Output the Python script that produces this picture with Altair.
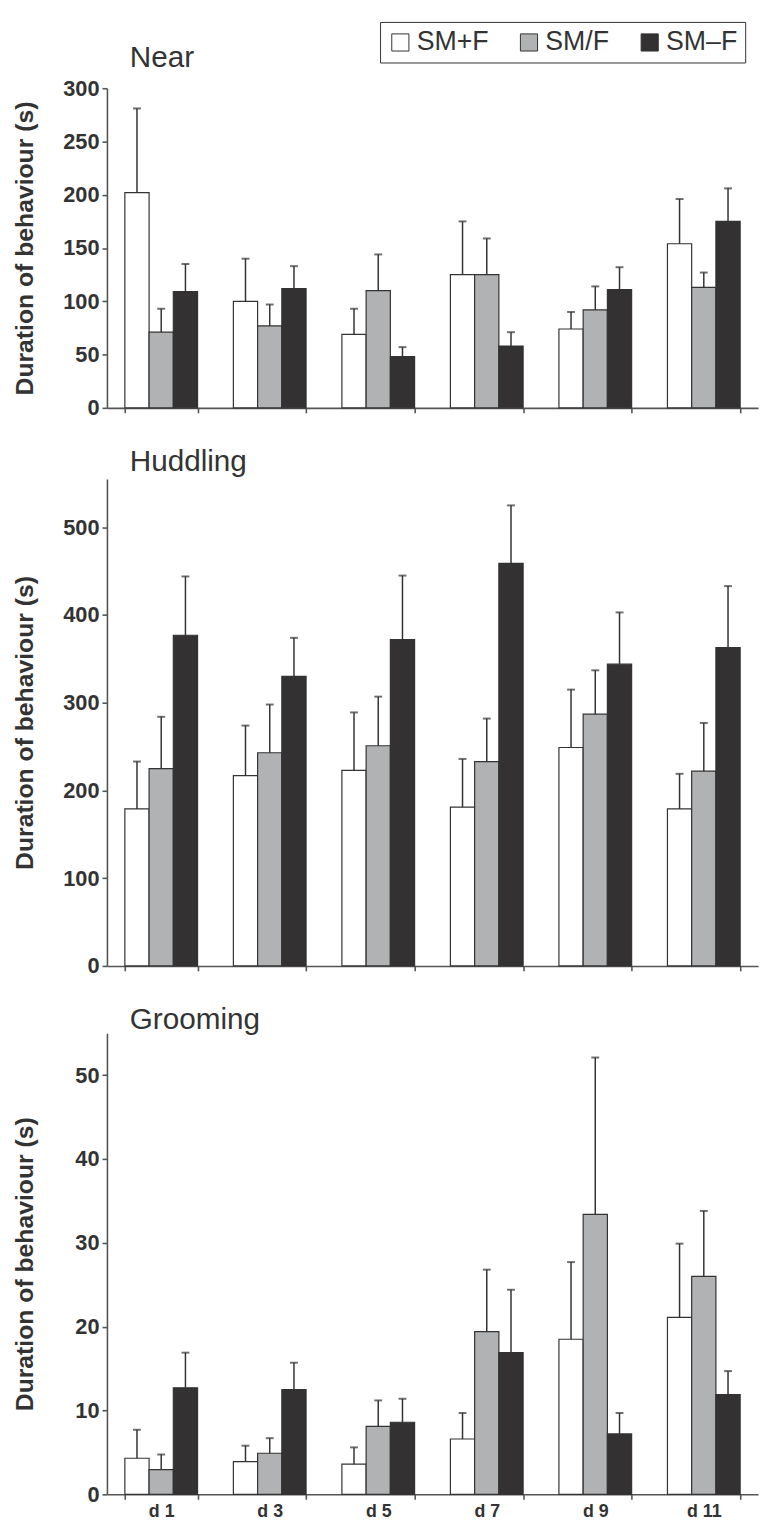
import altair as alt
import pandas as pd

days = ["d 1", "d 3", "d 5", "d 7", "d 9", "d 11"]
groups = ["SM+F", "SM/F", "SM–F"]
colors = ["#ffffff", "#b1b2b4", "#333132"]

# Near
near_smpf = [202, 100, 69, 125, 74, 154]
near_smpf_se = [79, 40, 24, 50, 16, 42]
near_smf = [71, 77, 110, 125, 92, 113]
near_smf_se = [22, 20, 34, 34, 22, 14]
near_smmf = [109, 112, 48, 58, 111, 175]
near_smmf_se = [26, 21, 9, 13, 21, 31]

# Huddling
hud_smpf = [179, 217, 223, 181, 249, 179]
hud_smpf_se = [54, 57, 66, 55, 66, 40]
hud_smf = [225, 243, 251, 233, 287, 222]
hud_smf_se = [59, 55, 56, 49, 50, 55]
hud_smmf = [377, 330, 372, 459, 344, 363]
hud_smmf_se = [67, 44, 73, 66, 59, 70]

# Grooming
grm_smpf = [4.3, 3.9, 3.6, 6.6, 18.5, 21.1]
grm_smpf_se = [3.4, 1.9, 2.0, 3.1, 9.2, 8.8]
grm_smf = [2.95, 4.9, 8.1, 19.4, 33.4, 26.0]
grm_smf_se = [1.8, 1.8, 3.1, 7.4, 18.7, 7.8]
grm_smmf = [12.7, 12.5, 8.6, 16.9, 7.2, 11.9]
grm_smmf_se = [4.2, 3.2, 2.8, 7.5, 2.5, 2.8]

FONT = "Liberation Sans"
INK = "#333333"


def make_df(series):
    rows = []
    for g, (means, ses) in zip(groups, series):
        for d, m, s in zip(days, means, ses):
            rows.append({"day": d, "group": g, "mean": m, "upper": m + s})
    return pd.DataFrame(rows)


def panel(df, title, ymax, yticks, height, title_base, show_labels, legend):
    base = alt.Chart(df)
    x = alt.X("day:N", sort=days,
              scale=alt.Scale(domain=days, paddingInner=0.33, paddingOuter=0.165),
              axis=alt.Axis(title=None, labels=show_labels, tickBand="extent",
                            tickSize=5, labelPadding=3, labelAngle=0,
                            labelFontSize=18))
    xo = alt.XOffset("group:N", sort=groups,
                     scale=alt.Scale(domain=groups, paddingInner=0, paddingOuter=0))
    y = alt.Y("mean:Q",
              scale=alt.Scale(domain=[0, ymax], nice=False, zero=True),
              axis=alt.Axis(values=yticks, title="Duration of behaviour (s)",
                            tickSize=5, labelPadding=3, titleX=-70,
                            titleFontSize=25, titleFontWeight="bold",
                            labelFontSize=22))
    color = alt.Color("group:N", sort=groups,
                      scale=alt.Scale(domain=groups, range=colors),
                      legend=legend)
    bars = base.mark_bar(stroke=INK, strokeWidth=1.2).encode(
        x=x, xOffset=xo, y=y, color=color)
    err = base.mark_rule(color=INK, strokeWidth=1.5).encode(
        x=x, xOffset=xo, y="mean:Q", y2="upper:Q")
    cap = base.mark_tick(color=INK, thickness=2, size=8).encode(
        x=x, xOffset=xo, y="upper:Q")
    lab = alt.Chart(pd.DataFrame({"t": [title]})).mark_text(
        align="left", baseline="alphabetic", font=FONT, fontSize=30,
        color=INK).encode(x=alt.value(23), y=alt.value(-title_base), text="t:N")
    return alt.layer(bars, err, cap, lab).properties(width=658, height=height)


legend1 = alt.Legend(orient="none", legendX=276, legendY=-67,
                     direction="horizontal", title=None,
                     strokeColor=INK, fillColor="white", padding=7,
                     symbolType="square", symbolSize=300,
                     symbolStrokeColor=INK, symbolStrokeWidth=1,
                     labelFont=FONT, labelFontSize=27, labelColor=INK,
                     labelFontWeight="normal", columnPadding=27,
                     labelOffset=3, labelLimit=0)

p1 = panel(make_df([(near_smpf, near_smpf_se), (near_smf, near_smf_se),
                    (near_smmf, near_smmf_se)]),
           "Near", 300, [0, 50, 100, 150, 200, 250, 300], 323, 21, False, legend1)
p2 = panel(make_df([(hud_smpf, hud_smpf_se), (hud_smf, hud_smf_se),
                    (hud_smmf, hud_smmf_se)]),
           "Huddling", 555, [0, 100, 200, 300, 400, 500], 492, 8, False, None)
p3 = panel(make_df([(grm_smpf, grm_smpf_se), (grm_smf, grm_smf_se),
                    (grm_smmf, grm_smmf_se)]),
           "Grooming", 55, [0, 10, 20, 30, 40, 50], 466, 4, True, None)

chart = alt.vconcat(p1, p2, p3, spacing=29).resolve_scale(
    color="independent").resolve_legend(color="independent").configure_view(
    stroke=None).configure_axis(
    grid=False, domainColor="#555555", domainWidth=1.6, tickColor="#555555",
    tickWidth=1.6, labelFont=FONT, labelFontWeight="bold", labelColor=INK,
    titleFont=FONT, titleColor=INK).properties(background="white")

chart.save("out.html", embed_options={"renderer": "svg", "actions": False})
